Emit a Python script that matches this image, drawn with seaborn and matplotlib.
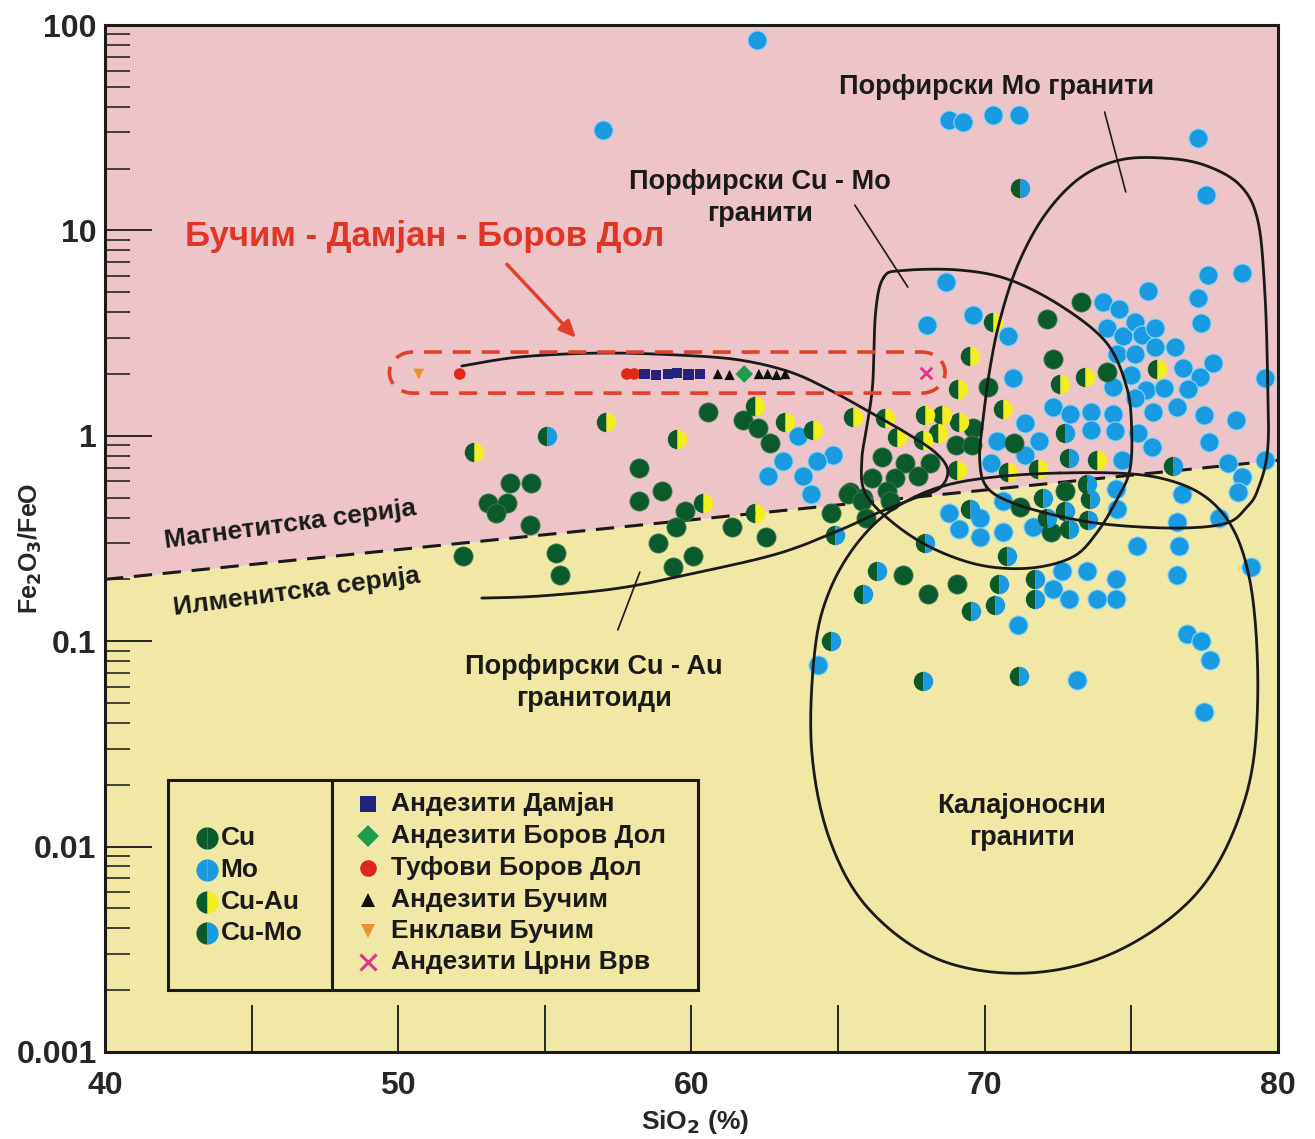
import numpy as np
import pandas as pd
import matplotlib
matplotlib.use("Agg")
import matplotlib.pyplot as plt
import seaborn as sns
from matplotlib.patches import Rectangle

# ---------------- data: SiO2 (%) and Fe2O3/FeO ----------------
cu_sio2 = [60.56, 61.75, 62.26, 62.67, 53.8, 54.52, 53.06, 53.7, 53.33, 54.49, 52.2, 55.38, 55.51,
           58.2, 58.2, 59.0, 59.77, 59.47, 58.85, 60.05, 59.37, 61.4, 62.54, 64.75,
           72.12, 73.28, 72.32, 74.16, 70.1, 71.0, 69.6, 69.01, 69.56, 66.5, 67.3, 68.13, 67.72,
           66.93, 66.15, 65.4, 65.84, 66.66, 65.33, 65.81, 65.95, 66.76, 71.2, 72.25, 72.73,
           67.2, 68.06, 69.05]
cu_ratio = [1.31, 1.19, 1.09, 0.92, 0.59, 0.59, 0.47, 0.47, 0.42, 0.37, 0.26, 0.27, 0.21,
            0.70, 0.48, 0.54, 0.43, 0.36, 0.30, 0.26, 0.23, 0.36, 0.32, 0.42,
            3.71, 4.48, 2.37, 2.05, 1.73, 0.92, 1.09, 0.90, 0.90, 0.79, 0.74, 0.74, 0.64,
            0.62, 0.62, 0.53, 0.50, 0.54, 0.52, 0.48, 0.40, 0.48, 0.45, 0.34, 0.54,
            0.21, 0.17, 0.19]

mo_sio2 = [63.63, 64.82, 63.12, 64.28, 62.6, 63.8, 64.07,
           68.67, 68.02, 69.6, 70.79, 74.03, 74.57, 75.56, 77.6, 78.77, 77.27, 77.37, 74.16, 74.71,
           75.12, 75.36, 75.8, 75.8, 76.48, 74.5, 75.12, 75.0, 76.75, 77.78, 77.33, 76.92, 79.55,
           74.37, 75.49, 76.1, 75.12, 70.96, 72.32, 72.9, 73.62, 74.37, 75.73, 76.55, 77.47, 78.56,
           71.37, 73.62, 74.44, 75.22, 75.7, 77.64, 71.84, 70.41, 71.37, 70.2, 74.67, 78.29, 79.55,
           78.77, 78.63, 76.72,
           68.8, 69.12, 69.83, 69.83, 70.62, 70.62, 71.64, 74.47, 74.5, 76.55, 75.19, 76.62, 76.55,
           77.98, 79.07, 72.63, 73.48, 74.47, 72.32, 72.87, 73.82, 74.47, 71.13, 64.31, 73.14,
           76.89, 77.37, 77.7, 77.47,
           62.23, 56.98, 68.8, 69.25, 70.28, 71.16, 77.27, 77.55]
mo_ratio = [1.0, 0.81, 0.75, 0.75, 0.64, 0.64, 0.52,
            5.6, 3.46, 3.87, 3.06, 4.48, 4.14, 5.07, 6.07, 6.21, 4.69, 3.54, 3.35, 3.06,
            3.58, 3.10, 3.35, 2.71, 2.71, 2.50, 2.49, 1.98, 2.14, 2.26, 1.93, 1.69, 1.91,
            1.73, 1.67, 1.70, 1.53, 1.91, 1.38, 1.28, 1.31, 1.28, 1.31, 1.38, 1.26, 1.19,
            1.15, 1.07, 1.05, 1.03, 0.88, 0.93, 0.94, 0.94, 0.81, 0.74, 0.76, 0.74, 0.76,
            0.63, 0.53, 0.52,
            0.42, 0.35, 0.40, 0.32, 0.34, 0.48, 0.36, 0.55, 0.44, 0.38, 0.29, 0.29, 0.21,
            0.40, 0.23, 0.22, 0.22, 0.20, 0.18, 0.16, 0.16, 0.16, 0.12, 0.077, 0.065,
            0.108, 0.10, 0.081, 0.045,
            84.5, 30.8, 34.5, 33.6, 36.5, 36.5, 28.2, 14.9]

cuau_sio2 = [52.6, 57.1, 59.5, 62.16, 63.18, 64.14, 60.39, 62.16, 70.28, 69.49, 73.41, 75.87,
             69.08, 72.56, 70.62, 73.82, 70.79, 71.81, 69.05, 65.5, 66.6, 67.96, 68.54, 69.12,
             67.0, 68.4, 67.89]
cuau_ratio = [0.83, 1.17, 0.97, 1.40, 1.17, 1.07, 0.47, 0.42, 3.58, 2.45, 1.93, 2.12,
              1.69, 1.79, 1.35, 0.76, 0.67, 0.69, 0.68, 1.24, 1.22, 1.26, 1.26, 1.17,
              0.99, 1.03, 0.95]

cumo_sio2 = [55.07, 64.9, 72.73, 72.87, 76.41, 71.2, 67.96, 69.49, 71.98, 72.12, 72.73, 72.87,
             73.48, 73.58, 73.51, 70.75, 66.32, 65.84, 70.48, 71.71, 71.71, 69.53, 70.34, 64.75,
             67.89, 71.16]
cumo_ratio = [1.0, 0.33, 1.03, 0.78, 0.71, 16.1, 0.30, 0.44, 0.50, 0.40, 0.43, 0.35,
              0.58, 0.49, 0.39, 0.26, 0.22, 0.17, 0.19, 0.20, 0.16, 0.14, 0.15, 0.10,
              0.064, 0.068]

# Bučim - Damjan - Borov Dol samples
damjan_sio2 = [58.4, 58.8, 59.2, 59.5, 59.9, 60.3]
damjan_ratio = [2.0, 1.98, 2.0, 2.02, 1.99, 2.0]
borov_and_sio2 = [61.8]
borov_and_ratio = [2.0]
borov_tuff_sio2 = [52.1, 57.8, 58.05]
borov_tuff_ratio = [2.0, 2.0, 2.0]
bucim_sio2 = [60.9, 61.3, 62.3, 62.6, 62.9, 63.2]
bucim_ratio = [2.0, 1.98, 2.0, 2.0, 1.98, 2.0]
enclave_sio2 = [50.7]
enclave_ratio = [2.0]
crni_sio2 = [68.0]
crni_ratio = [2.02]

# magnetite / ilmenite series boundary
series_sio2 = [40, 80]
series_ratio = [0.2, 0.76]

# field outlines (SiO2, log10 Fe2O3/FeO)
cuau_field_sio2 = [52.17, 54.15, 56.88, 59.6, 61.65, 63.36, 64.72, 66.08, 67.28, 68.3, 68.74,
                   68.47, 67.62, 66.42, 65.06, 63.01, 60.29, 57.56, 54.83, 52.85]
cuau_field_log = [0.34, 0.384, 0.403, 0.393, 0.369, 0.311, 0.223, 0.116, 0.018, -0.079, -0.167,
                  -0.254, -0.303, -0.371, -0.459, -0.571, -0.663, -0.741, -0.78, -0.79]

cumo_field_sio2 = [66.55, 67.2, 69.15, 70.86, 72.66, 74.16, 74.84, 75.01, 74.95, 74.5, 73.82,
                   73.0, 71.54, 69.83, 68.13, 66.76, 65.91, 65.81, 65.98, 66.18, 66.28]
cumo_field_log = [0.77, 0.805, 0.807, 0.759, 0.627, 0.452, 0.238, 0.043, -0.167, -0.313, -0.473,
                  -0.59, -0.644, -0.629, -0.541, -0.41, -0.274, -0.118, 0.043, 0.25, 0.60]

mo_field_sio2 = [70.07, 69.83, 69.94, 70.17, 70.52, 71.13, 72.05, 73.24, 74.61, 76.14, 77.5,
                 78.7, 79.31, 79.55, 79.65, 79.65, 79.31, 78.94, 78.25, 76.65, 74.37, 72.66, 70.96]
mo_field_log = [-0.249, -0.118, 0.077, 0.32, 0.564, 0.832, 1.075, 1.255, 1.343, 1.352, 1.318,
                1.221, 1.051, 0.71, 0.272, -0.069, -0.264, -0.347, -0.425, -0.449, -0.434,
                -0.395, -0.327]

sn_field_sio2 = [72.56, 75.97, 78.02, 79.04, 79.31, 78.87, 77.33, 74.61, 71.54, 68.47, 66.08,
                 64.72, 64.1, 64.21, 64.72, 65.74, 67.1, 69.15]
sn_field_log = [-0.181, -0.205, -0.361, -0.702, -1.286, -1.773, -2.211, -2.503, -2.615, -2.552,
                -2.309, -1.968, -1.53, -1.043, -0.751, -0.507, -0.337, -0.225]

# colours
PINK = "#EDC5C8"
YELLOW = "#F1E8A6"
CU = "#0B5A2C"
MO = "#1A9AE0"
AU = "#F4EE1C"
INK = "#1a1a1a"


def spline(xs, ls, closed=False, n=16):
    pts = np.column_stack([xs, ls])
    if closed:
        pts = np.vstack([pts[-1], pts, pts[0], pts[1]])
    else:
        pts = np.vstack([pts[0], pts, pts[-1]])
    t = np.linspace(0, 1, n, endpoint=False)[:, None]
    out = []
    for i in range(1, len(pts) - 2):
        p0, p1, p2, p3 = pts[i - 1], pts[i], pts[i + 1], pts[i + 2]
        seg = 0.5 * (2 * p1 + (-p0 + p2) * t + (2 * p0 - 5 * p1 + 4 * p2 - p3) * t ** 2
                     + (-p0 + 3 * p1 - 3 * p2 + p3) * t ** 3)
        out.append(seg)
    out.append(pts[-2][None])
    out = np.vstack(out)
    return out[:, 0], 10 ** out[:, 1]


sns.set_style("ticks")
plt.rcParams['font.family'] = ['Liberation Sans', 'DejaVu Sans']
plt.rcParams['font.weight'] = 'bold'
plt.rcParams['mathtext.default'] = 'bf'

fig = plt.figure(figsize=(13.15, 11.39), dpi=100)
ax = fig.add_axes([0.0798, 0.0764, 0.892, 0.9016])
ax.set_yscale("log")
ax.set_xlim(40, 80)
ax.set_ylim(0.001, 100)

# background: magnetite (pink) vs ilmenite (yellow)
ax.fill_between(series_sio2, series_ratio, 100, color=PINK, lw=0, zorder=0)
ax.fill_between(series_sio2, 0.001, series_ratio, color=YELLOW, lw=0, zorder=0)
ax.plot(series_sio2, series_ratio, color=INK, lw=2.2, ls=(0, (6, 3.5)), zorder=1)

# field outlines
fx, fy = spline(cuau_field_sio2, cuau_field_log)
ax.plot(fx, fy, color=INK, lw=2.0, zorder=4)
for sx, sl in [(cumo_field_sio2, cumo_field_log), (mo_field_sio2, mo_field_log),
               (sn_field_sio2, sn_field_log)]:
    fx, fy = spline(sx, sl, closed=True)
    ax.plot(fx, fy, color=INK, lw=2.0, zorder=4)

# data points
df_cu = pd.DataFrame({"SiO2": cu_sio2, "ratio": cu_ratio})
df_mo = pd.DataFrame({"SiO2": mo_sio2, "ratio": mo_ratio})
sns.scatterplot(data=df_mo, x="SiO2", y="ratio", color=MO, s=190, edgecolor="#8fd6f5",
                linewidth=0.8, ax=ax, zorder=3)
sns.scatterplot(data=df_cu, x="SiO2", y="ratio", color=CU, s=190, edgecolor="#3f7a55",
                linewidth=0.6, ax=ax, zorder=3)
ax.plot(cuau_sio2, cuau_ratio, ls="none", marker="o", ms=14, fillstyle="left",
        markerfacecolor=CU, markerfacecoloralt=AU, markeredgecolor="none", zorder=3)
ax.plot(cumo_sio2, cumo_ratio, ls="none", marker="o", ms=14, fillstyle="left",
        markerfacecolor=CU, markerfacecoloralt=MO, markeredgecolor="none", zorder=3)

# Bučim - Damjan - Borov Dol samples
sns.scatterplot(x=borov_tuff_sio2, y=borov_tuff_ratio, marker="o", color="#E0281A", s=70,
                edgecolor="none", ax=ax, zorder=5)
sns.scatterplot(x=damjan_sio2, y=damjan_ratio, marker="s", color="#23237E", s=55,
                edgecolor="none", ax=ax, zorder=5)
sns.scatterplot(x=bucim_sio2, y=bucim_ratio, marker="^", color="#111111", s=55,
                edgecolor="none", ax=ax, zorder=5)
sns.scatterplot(x=borov_and_sio2, y=borov_and_ratio, marker="D", color="#1E9B4B", s=80,
                edgecolor="none", ax=ax, zorder=5)
sns.scatterplot(x=enclave_sio2, y=enclave_ratio, marker="v", color="#E8922E", s=60,
                edgecolor="none", ax=ax, zorder=5)
sns.scatterplot(x=crni_sio2, y=crni_ratio, marker="x", color="#E0338C", s=70,
                linewidth=2, ax=ax, zorder=5)

# red dashed outline round the studied samples
th = np.linspace(-np.pi / 2, np.pi / 2, 40)
c_log, h_log, rx = 0.308, 0.10, 0.8
x_right = 67.85 + rx * np.cos(th)
l_right = c_log + h_log * np.sin(th)
x_left = 50.5 - rx * np.cos(th[::-1])
l_left = c_log + h_log * np.sin(th[::-1])
sx = np.concatenate([x_right, x_left, x_right[:1]])
sl = np.concatenate([l_right, l_left, l_right[:1]])
ax.plot(sx, 10 ** sl, color="#E2402A", lw=2.6, ls=(0, (5, 3)), zorder=6)

ax.annotate("", xy=(56.13, 2.93), xytext=(53.64, 7.0),
            arrowprops=dict(arrowstyle="-|>,head_length=1.0,head_width=0.45",
                            color="#E2402A", lw=2.5), zorder=6)

# labels
ax.text(50.91, 9.3, "Бучим - Дамјан - Боров Дол", color="#E03424", fontsize=25,
        fontweight="bold", ha="center", va="center")
ax.text(70.41, 49.9, "Порфирски Mo гранити", fontsize=19.5, fontweight="bold",
        ha="center", va="center", color=INK)
ax.text(62.33, 14.4, "Порфирски Cu - Mo\nгранити", fontsize=19.5, fontweight="bold",
        ha="center", va="center", color=INK, linespacing=1.3)
ax.text(56.67, 0.0625, "Порфирски Cu - Au\nгранитоиди", fontsize=19.5, fontweight="bold",
        ha="center", va="center", color=INK, linespacing=1.3)
ax.text(71.27, 0.0132, "Калајоносни\nгранити", fontsize=19.5, fontweight="bold",
        ha="center", va="center", color=INK, linespacing=1.3)
ax.text(46.31, 0.368, "Магнетитска серија", fontsize=19, fontweight="bold",
        ha="center", va="center", rotation=7.5, color=INK)
ax.text(46.55, 0.174, "Илменитска серија", fontsize=19, fontweight="bold",
        ha="center", va="center", rotation=7.5, color=INK)

# leader lines
ax.plot([74.09, 74.81], [37.7, 15.4], color=INK, lw=1.2, zorder=4)
ax.plot([65.57, 67.38], [13.3, 5.3], color=INK, lw=1.2, zorder=4)
ax.plot([58.24, 57.49], [0.217, 0.1135], color=INK, lw=1.2, zorder=4)

# legend box
ax.add_patch(Rectangle((0.0537, 0.0604), 0.4518, 0.2044, transform=ax.transAxes,
                       facecolor="none", edgecolor=INK, lw=2.2, zorder=7))
ax.plot([0.1935, 0.1935], [0.0604, 0.2648], transform=ax.transAxes, color=INK,
        lw=2.2, zorder=7)

left_items = [("Cu", CU, CU), ("Mo", MO, MO), ("Cu-Au", CU, AU), ("Cu-Mo", CU, MO)]
left_y = [0.2084, 0.1772, 0.146, 0.1159]
for (lab, c1, c2), yy in zip(left_items, left_y):
    ax.plot([0.087], [yy], transform=ax.transAxes, marker="o", ms=16, fillstyle="left",
            markerfacecolor=c1, markerfacecoloralt=c2, markeredgecolor="none", zorder=8)
    ax.text(0.0985, yy, lab, transform=ax.transAxes, fontsize=19, fontweight="bold",
            va="center", ha="left", color=INK)

right_items = [("Андезити Дамјан", "s", "#23237E", 11),
               ("Андезити Боров Дол", "D", "#1E9B4B", 11),
               ("Туфови Боров Дол", "o", "#E0281A", 12),
               ("Андезити Бучим", "^", "#111111", 10),
               ("Енклави Бучим", "v", "#E8922E", 10),
               ("Андезити Црни Врв", "x", "#E0338C", 11)]
right_y = [0.2415, 0.2103, 0.1792, 0.148, 0.1178, 0.0876]
for (lab, m, c, ms), yy in zip(right_items, right_y):
    ax.plot([0.2242], [yy], transform=ax.transAxes, marker=m, ms=ms, color=c,
            mew=2.2 if m == "x" else 0, ls="none", zorder=8)
    ax.text(0.2435, yy, lab, transform=ax.transAxes, fontsize=19, fontweight="bold",
            va="center", ha="left", color=INK)

# axes styling
ax.set_xticks([40, 50, 60, 70, 80])
ax.set_xticks([45, 55, 65, 75], minor=True)
ax.tick_params(axis="x", which="both", direction="in", length=34, width=1.4, labelsize=23,
               pad=14, top=False)
ax.tick_params(axis="y", which="major", direction="in", length=34, width=1.4, labelsize=23,
               pad=6, right=False)
ax.tick_params(axis="y", which="minor", direction="in", length=18, width=1.2, right=False)
ax.set_yticks([0.001, 0.01, 0.1, 1, 10, 100])
ax.set_yticklabels(["0.001", "0.01", "0.1", "1", "10", "100"])
for lbl in ax.get_xticklabels() + ax.get_yticklabels():
    lbl.set_fontweight("bold")
for sp in ax.spines.values():
    sp.set_linewidth(2.2)
    sp.set_color(INK)

ax.set_xlabel("SiO$_2$ (%)", fontsize=19, fontweight="bold", labelpad=0)
ax.set_ylabel("Fe$_2$O$_3$/FeO", fontsize=18, fontweight="bold")
ax.yaxis.set_label_coords(-0.052, 0.49)
ax.xaxis.set_label_coords(0.503, -0.055)

fig.savefig("out.png", dpi=100)
